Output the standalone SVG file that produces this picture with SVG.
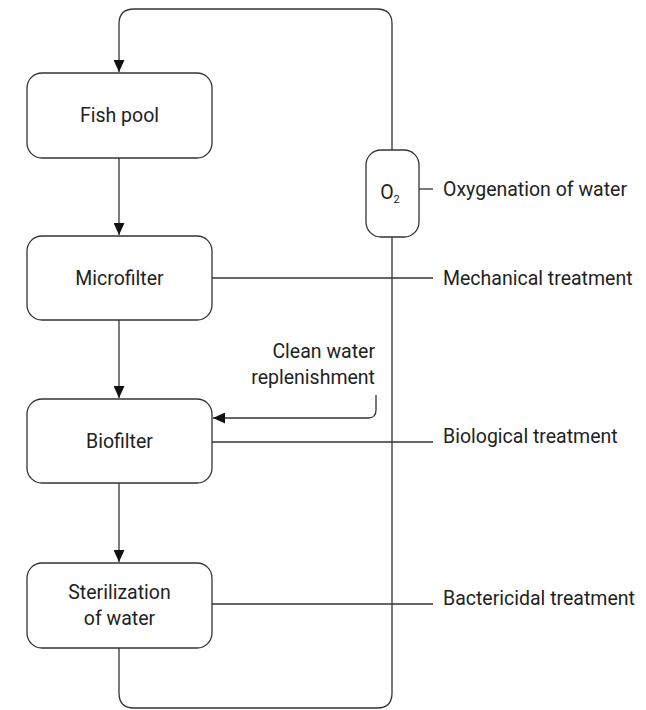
<svg xmlns="http://www.w3.org/2000/svg" width="646" height="710" viewBox="0 0 646 710">
<style>
.box{fill:#fff;stroke:#333;stroke-width:1.3}
.ln{fill:none;stroke:#333;stroke-width:1.3}
text{font-family:Roboto,"Liberation Sans",sans-serif;font-size:19.5px;fill:#222}
.c{text-anchor:middle}
.r{text-anchor:end}
</style>
<defs>
<marker id="ah" viewBox="0 0 12 11" refX="12" refY="5.5" markerWidth="12" markerHeight="11" markerUnits="userSpaceOnUse" orient="auto">
<path d="M0,0 L12,5.5 L0,11 z" fill="#111"/>
</marker>
</defs>
<g id="connectors">
<path class="ln" d="M119,648 V693 Q119,708 134,708 H377 Q392,708 392,693 V24 Q392,9 377,9 H134 Q119,9 119,24 V72" marker-end="url(#ah)"/>
<path class="ln" d="M119,158 V235" marker-end="url(#ah)"/>
<path class="ln" d="M119,320 V398" marker-end="url(#ah)"/>
<path class="ln" d="M119,483 V562" marker-end="url(#ah)"/>
<path class="ln" d="M376,395 V410 Q376,418 368,418 H213" marker-end="url(#ah)"/>
<path class="ln" d="M212,278 H433"/>
<path class="ln" d="M212,442 H433"/>
<path class="ln" d="M212,604 H433"/>
<path class="ln" d="M419,189 H433"/>
</g>
<g id="fish-pool"><rect class="box" x="27" y="73" width="185" height="85" rx="15"/><text class="c" x="119.5" y="122">Fish pool</text></g>
<g id="microfilter"><rect class="box" x="27" y="236" width="185" height="84" rx="15"/><text class="c" x="119.5" y="285">Microfilter</text></g>
<g id="biofilter"><rect class="box" x="27" y="399" width="185" height="84" rx="15"/><text class="c" x="119.5" y="448">Biofilter</text></g>
<g id="sterilization"><rect class="box" x="27" y="563" width="185" height="85" rx="15"/><text class="c" x="119.5" y="599">Sterilization</text><text class="c" x="119.5" y="625">of water</text></g>
<g id="o2"><rect class="box" x="366" y="150" width="53" height="87" rx="15"/><text class="c" x="390" y="199">O<tspan font-size="11" dy="4">2</tspan></text></g>
<g id="labels">
<text x="443" y="196">Oxygenation of water</text>
<text x="443" y="285">Mechanical treatment</text>
<text x="443" y="443">Biological treatment</text>
<text x="443" y="605">Bactericidal treatment</text>
<text class="r" x="375" y="358">Clean water</text>
<text class="r" x="375" y="384">replenishment</text>
</g>
</svg>
